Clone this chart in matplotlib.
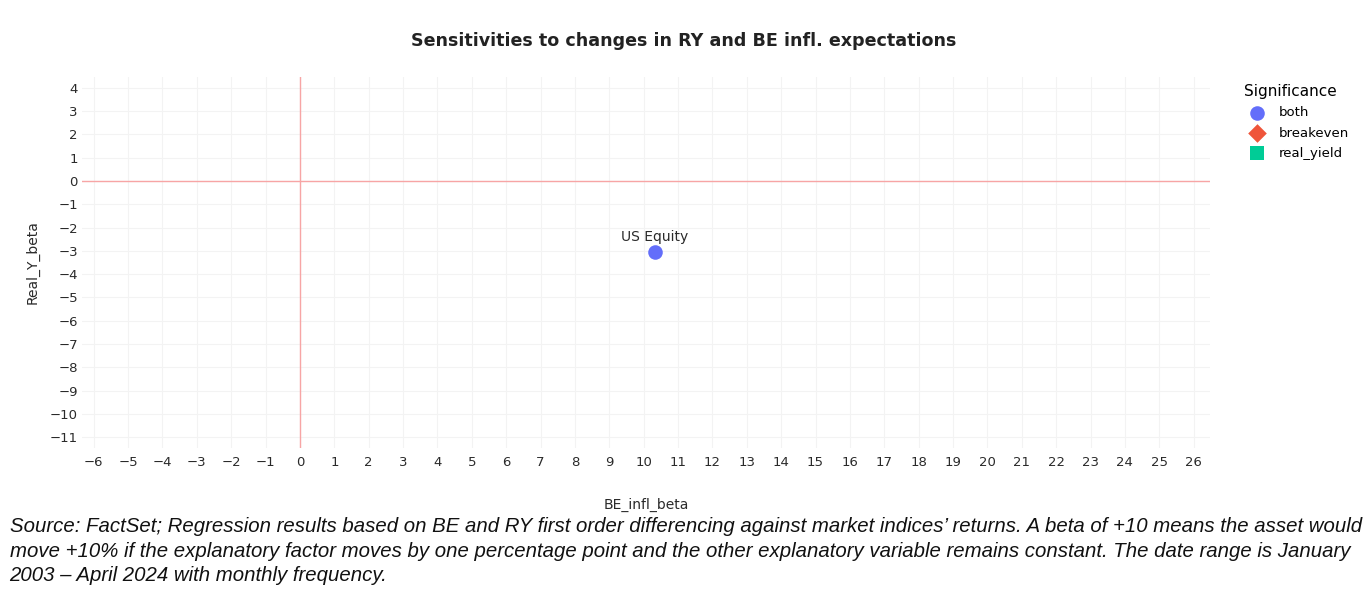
import matplotlib
matplotlib.use("Agg")
import matplotlib.pyplot as plt
import numpy as np

# data
assets = ["US Equity"]
be_beta = [10.33]
ry_beta = [-3.05]
significance = ["both"]

groups = ["both", "breakeven", "real_yield"]
colors = {"both": "#636EFA", "breakeven": "#EF553B", "real_yield": "#00CC96"}
markers = {"both": "o", "breakeven": "D", "real_yield": "s"}

x_ticks = list(range(-6, 27))
y_ticks = list(range(-11, 5))

caption = ("Source: FactSet; Regression results based on BE and RY first order differencing against market indices\u2019 returns. A beta of +10 means the asset would\n"
           "move +10% if the explanatory factor moves by one percentage point and the other explanatory variable remains constant. The date range is January\n"
           "2003 \u2013 April 2024 with monthly frequency.")

fig = plt.figure(figsize=(13.67, 5.92), dpi=100)
ax = fig.add_axes([0.06, 0.243, 0.825, 0.627])

for g in groups:
    xs = [x for x, s in zip(be_beta, significance) if s == g]
    ys = [y for y, s in zip(ry_beta, significance) if s == g]
    ax.scatter(xs, ys, s=110 if g == "both" else 90, marker=markers[g], c=colors[g],
               label=g, zorder=4, linewidths=0)

for name, x, y in zip(assets, be_beta, ry_beta):
    ax.annotate(name, (x, y), xytext=(0, 6), textcoords="offset points",
                ha="center", va="bottom", fontsize=10, color="#2a2a2a", zorder=5)

ax.axhline(0, color="#f7a5a5", lw=1, zorder=2)
ax.axvline(0, color="#f7a5a5", lw=1, zorder=2)

ax.set_xlim(-6.34, 26.47)
ax.set_ylim(-11.47, 4.47)
ax.set_xticks(x_ticks)
ax.set_yticks(y_ticks)
ax.set_xticklabels([str(t).replace("-", "\u2212") for t in x_ticks])
ax.set_yticklabels([str(t).replace("-", "\u2212") for t in y_ticks])
ax.tick_params(length=0, labelsize=9.5, colors="#2a2a2a")
ax.tick_params(axis="x", pad=6)
ax.tick_params(axis="y", pad=3)
ax.grid(True, color="#f3f3f3", lw=0.8, zorder=0)
for sp in ax.spines.values():
    sp.set_visible(False)

ax.set_xlabel("BE_infl_beta", fontsize=10, color="#2a2a2a")
ax.set_ylabel("Real_Y_beta", fontsize=10, color="#2a2a2a")
ax.xaxis.set_label_coords(0.5, -0.135)
ax.yaxis.set_label_coords(-0.038, 0.5)

fig.text(0.5, 0.93, "Sensitivities to changes in RY and BE infl. expectations",
         ha="center", va="center", fontsize=12.6, fontweight="bold", color="#222222")

leg = ax.legend(title="Significance", loc="upper left", bbox_to_anchor=(1.02, 1.013),
                frameon=False, fontsize=9.5, title_fontsize=11, handletextpad=0.6,
                labelspacing=0.55)
leg._legend_box.align = "left"

fig.text(0.007, 0.069, caption, ha="left", va="center", fontsize=14.7,
         style="italic", family="Liberation Sans", linespacing=1.38, color="#111111")

fig.savefig("out.png", dpi=100)
